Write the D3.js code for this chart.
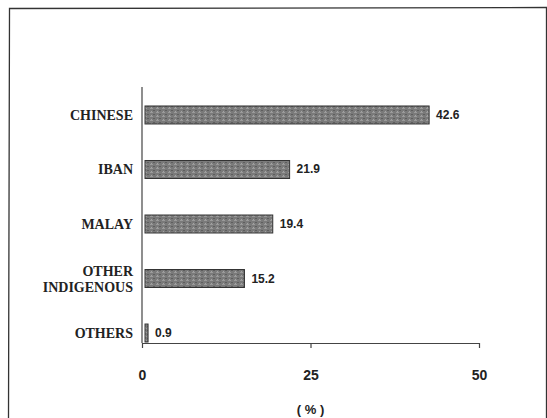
<!DOCTYPE html>
<html><head><meta charset="utf-8">
<script src="https://cdn.jsdelivr.net/npm/d3@7/dist/d3.min.js"></script>
<style>body{margin:0;background:#fff}svg{display:block}</style>
</head><body>
<svg id="c" width="547" height="418"></svg>
<script>
const categories = [["CHINESE"], ["IBAN"], ["MALAY"], ["OTHER", "INDIGENOUS"], ["OTHERS"]];
const values = [42.6, 21.9, 19.4, 15.2, 0.9];
const tickValues = [0, 25, 50];
const axisTitle = "( % )";

const svg = d3.select("#c");
// frame
svg.append("path").attr("d", "M8.5,418 L9.5,8.5 L546.5,7.5 L546.5,418")
  .attr("fill", "none").attr("stroke", "#333").attr("stroke-width", 1.3);

// texture pattern
const defs = svg.append("defs");
const pat = defs.append("pattern").attr("id", "tex").attr("patternUnits", "userSpaceOnUse")
  .attr("width", 6).attr("height", 4);
pat.append("rect").attr("width", 6).attr("height", 4).attr("fill", "#7a7a7a");
pat.append("rect").attr("x", 0).attr("y", 0).attr("width", 3).attr("height", 1).attr("fill", "#9a9a9a");
pat.append("rect").attr("x", 3).attr("y", 2).attr("width", 2).attr("height", 1).attr("fill", "#5e5e5e");
pat.append("rect").attr("x", 1).attr("y", 3).attr("width", 1).attr("height", 1).attr("fill", "#a4a4a4");

const x = d3.scaleLinear().domain([0, 50]).range([142, 479]);
const idx = d3.range(values.length);
const y = d3.scaleBand().domain(idx).range([88, 360]).paddingInner(0.67).paddingOuter(0.33);

// x axis
const xAxis = d3.axisBottom(x).tickValues(tickValues).tickSize(5).tickSizeOuter(0).tickPadding(22);
const gx = svg.append("g").attr("transform", "translate(0,343)").call(xAxis);
gx.select(".domain").attr("stroke", "#444").attr("stroke-width", 1.2);
gx.selectAll(".tick line").attr("stroke", "#444").attr("stroke-width", 1.2);
gx.selectAll(".tick text").attr("font-family", "Liberation Sans, Arial, sans-serif")
  .attr("font-weight", "bold").attr("font-size", 14).attr("fill", "#222");

// y axis line
svg.append("line").attr("x1", x(0)).attr("x2", x(0)).attr("y1", 87).attr("y2", 343)
  .attr("stroke", "#444").attr("stroke-width", 1.2);

// bars
svg.selectAll("rect.bar").data(idx).join("rect").attr("class", "bar")
  .attr("x", x(0) + 3).attr("y", i => y(i))
  .attr("width", i => x(values[i]) - x(0) - 3).attr("height", y.bandwidth())
  .attr("fill", "url(#tex)").attr("stroke", "#333").attr("stroke-width", 1);

// value labels
svg.selectAll("text.val").data(idx).join("text").attr("class", "val")
  .attr("x", i => x(values[i]) + 7).attr("y", i => y(i) + y.bandwidth() / 2 + 4)
  .attr("font-family", "Liberation Sans, Arial, sans-serif").attr("font-weight", "bold")
  .attr("font-size", 12).attr("fill", "#222").text(i => values[i].toFixed(1));

// category labels
const cl = svg.selectAll("text.cat").data(idx).join("text").attr("class", "cat")
  .attr("text-anchor", "end").attr("x", 133)
  .attr("font-family", "Liberation Serif, Times New Roman, serif").attr("font-weight", "bold")
  .attr("font-size", 14).attr("fill", "#222");
cl.each(function(i) {
  const lines = categories[i];
  const cy = y(i) + y.bandwidth() / 2;
  const t = d3.select(this);
  lines.forEach((s, k) => {
    t.append("tspan").attr("x", 133)
      .attr("y", cy + 5 + (k - (lines.length - 1) / 2) * 16).text(s);
  });
});

// axis title
svg.append("text").attr("x", x(25)).attr("y", 414).attr("text-anchor", "middle")
  .attr("font-family", "Liberation Sans, Arial, sans-serif").attr("font-weight", "bold")
  .attr("font-size", 13).attr("fill", "#222").text(axisTitle);
</script>
</body></html>
